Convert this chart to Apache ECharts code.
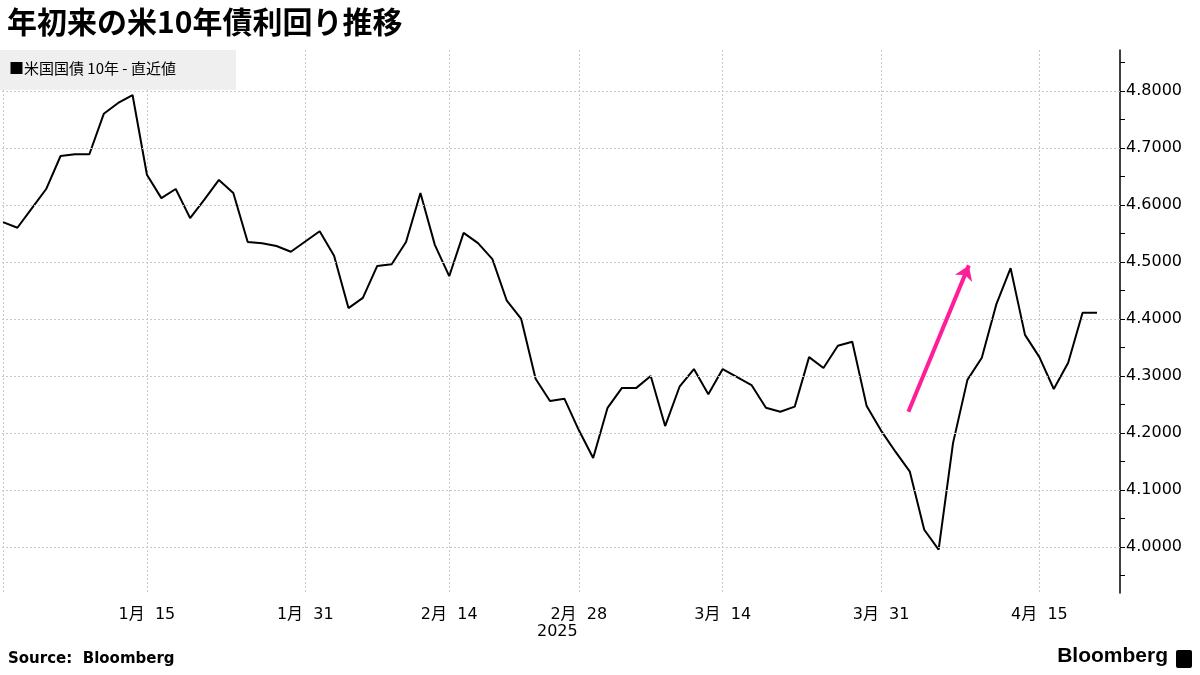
<!DOCTYPE html>
<html><head><meta charset="utf-8">
<script src="https://cdn.jsdelivr.net/npm/echarts@6/dist/echarts.min.js"></script>
<style>html,body{margin:0;padding:0;background:#fff}#c{width:1200px;height:675px}</style>
</head><body><div id="c"></div>
<script>
// one value per trading session, in order (session index is the x position)
const yields = [4.570,4.560,4.594,4.628,4.686,4.689,4.689,4.760,4.779,4.793,4.653,4.612,4.628,4.577,4.610,4.644,4.621,4.535,4.533,4.528,4.518,4.536,4.554,4.511,4.419,4.437,4.493,4.496,4.535,4.621,4.530,4.475,4.551,4.533,4.505,4.432,4.400,4.295,4.256,4.260,4.205,4.156,4.244,4.279,4.279,4.300,4.212,4.281,4.312,4.268,4.312,4.298,4.284,4.244,4.237,4.246,4.333,4.314,4.353,4.360,4.247,4.204,4.167,4.132,4.030,3.995,4.182,4.293,4.332,4.425,4.489,4.372,4.333,4.277,4.323,4.411,4.411];
const tickIndex = [0,10,21,31,40,50,61,72];
const tickLabels = ['','1月  15','1月  31','2月  14','2月  28','3月  14','3月  31','4月  15'];
const yLabels = [4.0,4.1,4.2,4.3,4.4,4.5,4.6,4.7,4.8];
const yMinor = [3.95,4.0,4.05,4.1,4.15,4.2,4.25,4.3,4.35,4.4,4.45,4.5,4.55,4.6,4.65,4.7,4.75,4.8,4.85];
const arrowFrom = [62.9, 4.237];
const arrowTo = [67.1, 4.494];

const F = 'Verdana, "DejaVu Sans", "Noto Sans CJK JP", sans-serif';
const chart = echarts.init(document.getElementById('c'));
chart.setOption({
  animation: false,
  grid: {left: 0, right: 80, top: 50, bottom: 82},
  title: {text: '年初来の米10年債利回り推移', left: 2, top: 2,
    textStyle: {fontFamily: '"Noto Sans CJK JP", sans-serif', fontSize: 30, fontWeight: 'bold', color: '#000'}},
  graphic: [
    {type: 'rect', left: 0, top: 50, z: 10, shape: {width: 236, height: 40}, style: {fill: '#efefef'}},
    {type: 'text', left: 9, top: 61, z: 11, style: {text: '■米国国債 10年 - 直近値', font: '15px "Noto Sans CJK JP", sans-serif', fill: '#000'}},
    {type: 'text', left: 537, top: 624, style: {text: '2025', font: '16px ' + F, fill: '#000'}},
    {type: 'text', left: 8, top: 652, style: {text: 'Source:  Bloomberg', font: 'bold 15px ' + F, fill: '#000'}},
    {type: 'text', right: 32, top: 646, style: {text: 'Bloomberg', font: 'bold 21px "Liberation Sans", Arial, sans-serif', fill: '#000'}},
    {type: 'rect', right: 8, top: 650, shape: {width: 16, height: 18, r: 2}, style: {fill: '#000'}}
  ],
  xAxis: {
    type: 'value', min: -0.07, max: 77.6,
    axisLine: {show: false}, axisTick: {show: false, customValues: tickIndex},
    axisLabel: {customValues: tickIndex, color: '#000', fontSize: 16, fontFamily: F, margin: 14,
      formatter: v => tickLabels[tickIndex.indexOf(Math.round(v))] || ''},
    splitLine: {show: true, lineStyle: {type: [2, 2], color: '#c8c8c8'}}
  },
  yAxis: {
    type: 'value', position: 'right', min: 3.919, max: 4.872,
    axisLine: {show: true, onZero: false, lineStyle: {color: '#000', width: 1.5}},
    axisTick: {show: true, customValues: yMinor, length: 5, lineStyle: {color: '#000'}},
    axisLabel: {customValues: yLabels, color: '#000', fontSize: 16, fontFamily: F, margin: 6,
      formatter: v => v.toFixed(4)},
    splitLine: {show: false}
  },
  series: [{
    type: 'line', data: yields.map((v, i) => [i, v]),
    showSymbol: false, lineStyle: {color: '#000', width: 2}, silent: true,
    markLine: {silent: true, symbol: 'none', label: {show: false},
      lineStyle: {type: [2, 2], color: '#c8c8c8', width: 1},
      data: yLabels.map(v => ({yAxis: v}))}
  }, {
    type: 'line', data: [], silent: true,
    markLine: {silent: true, symbol: ['none', 'arrow'], symbolSize: 14, label: {show: false},
      lineStyle: {type: 'solid', color: '#ff1e9a', width: 4},
      data: [[{coord: arrowFrom}, {coord: arrowTo}]]}
  }]
});
</script></body></html>
